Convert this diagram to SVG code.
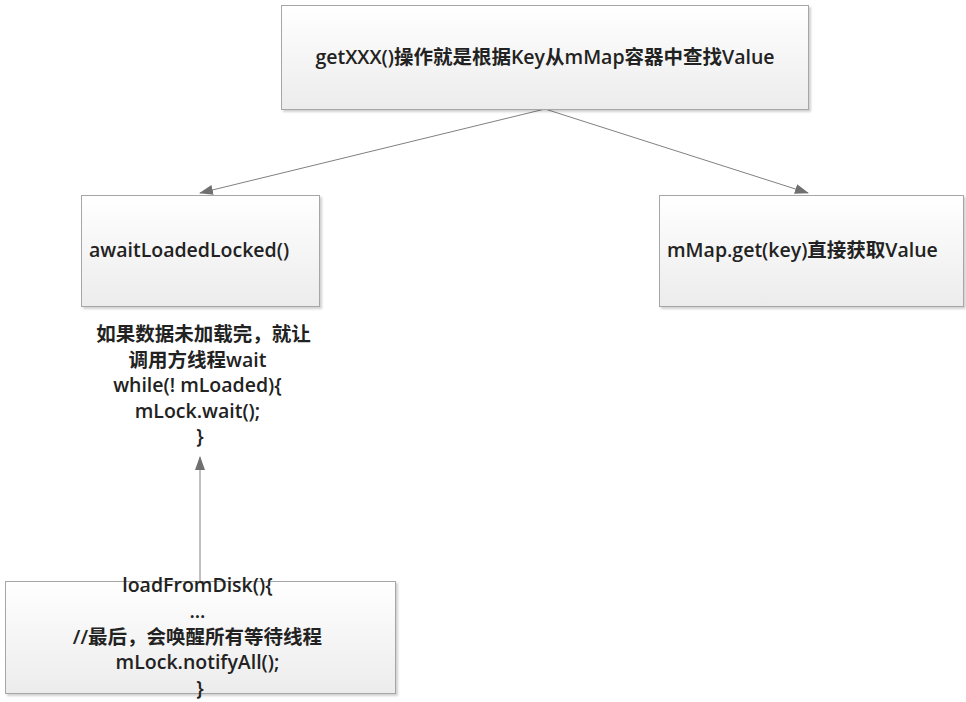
<svg xmlns="http://www.w3.org/2000/svg" width="966" height="702" viewBox="0 0 966 702">
<defs>
<linearGradient id="g" x1="0" y1="0" x2="0" y2="1">
<stop offset="0" stop-color="#ffffff"/>
<stop offset="1" stop-color="#ececec"/>
</linearGradient>
<filter id="sh" x="-5%" y="-5%" width="115%" height="115%">
<feDropShadow dx="2" dy="2" stdDeviation="1.2" flood-color="#000" flood-opacity="0.18"/>
</filter>
<marker id="ah" markerWidth="14" markerHeight="10" refX="13" refY="5" orient="auto" markerUnits="userSpaceOnUse">
<path d="M0,0 L14,5 L0,10 Z" fill="#707070"/>
</marker>
</defs>
<style>
.box{fill:url(#g);stroke:#a6a6a6;stroke-width:1;filter:url(#sh)}
.t{font-family:"Open Sans","Noto Sans CJK SC",sans-serif;font-size:19.5px;font-weight:600;fill:#222}
.c{stroke:#808080;stroke-width:1;fill:none}
</style>
<g id="connectors">
<line class="c" x1="545" y1="109" x2="200" y2="193" marker-end="url(#ah)"/>
<line class="c" x1="545" y1="109" x2="808" y2="193" marker-end="url(#ah)"/>
<line class="c" x1="200" y1="581" x2="200" y2="457" marker-end="url(#ah)"/>
</g>
<g id="top">
<rect class="box" x="281.5" y="5.5" width="527" height="104"/>
<text class="t" x="545" y="64" text-anchor="middle">getXXX()操作就是根据Key从mMap容器中查找Value</text>
</g>
<g id="await">
<rect class="box" x="81.5" y="195.5" width="238" height="111"/>
<text class="t" x="89" y="257">awaitLoadedLocked()</text>
</g>
<g id="await-note">
<text class="t" text-anchor="middle">
<tspan x="206" y="341">如果数据未加载完，就让</tspan>
<tspan x="200" y="367">调用方线程wait</tspan>
<tspan x="200" y="392">while(! mLoaded){</tspan>
<tspan x="200" y="418">mLock.wait();</tspan>
<tspan x="200" y="443">}</tspan>
</text>
</g>
<g id="mmap">
<rect class="box" x="659.5" y="195.5" width="304" height="111"/>
<text class="t" x="667" y="257">mMap.get(key)直接获取Value</text>
</g>
<g id="load">
<rect class="box" x="5.5" y="581.5" width="390" height="112"/>
<text class="t" text-anchor="middle">
<tspan x="200" y="592">loadFromDisk(){</tspan>
<tspan x="200" y="618">...</tspan>
<tspan x="200" y="644">//最后，会唤醒所有等待线程</tspan>
<tspan x="200" y="669">mLock.notifyAll();</tspan>
<tspan x="200" y="695">}</tspan>
</text>
</g>
</svg>
